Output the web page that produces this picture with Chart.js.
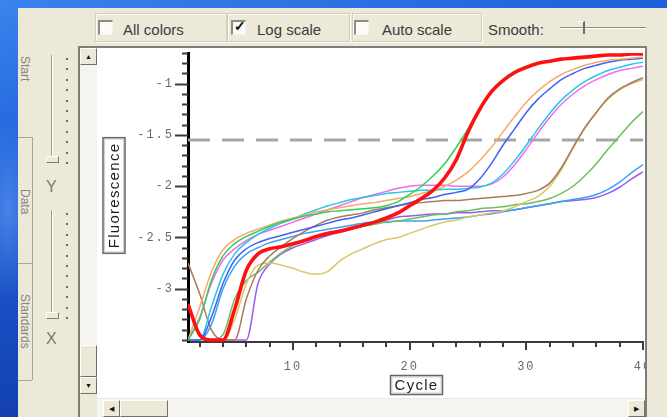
<!DOCTYPE html>
<html>
<head>
<meta charset="utf-8">
<title>Amplification plot</title>
<script src="https://cdn.jsdelivr.net/npm/chart.js@4.4.1/dist/chart.umd.min.js"></script>
<style>
  html, body { margin: 0; padding: 0; }
  body {
    width: 667px; height: 417px; overflow: hidden; position: relative;
    background:
      radial-gradient(ellipse 30px 90px at 8px 210px, rgba(120,180,255,0.45), rgba(120,180,255,0) 100%),
      linear-gradient(165deg, #3a84ee 0%, #1f60d8 30%, #1648bb 60%, #0b2f8e 100%);
    font-family: "Liberation Sans", Arial, sans-serif;
  }
  .abs { position: absolute; }
  #panel { left: 18px; top: 8px; width: 649px; height: 409px; background: #ece9d8; }

  /* option row */
  .group { top: 13px; height: 27px; border: 1px solid #d2cfc0; box-shadow: inset 1px 1px 0 #fbfaf5, 1px 1px 0 #fbfaf5; }
  .chk { top: 20px; width: 12px; height: 12px; background: #fbfbf8;
         border-top: 2px solid #8e8c84; border-left: 2px solid #8e8c84;
         border-bottom: 1px solid #f4f3ee; border-right: 1px solid #f4f3ee; }
  .chk span { position: absolute; left: 1px; top: -4px; font-size: 14px; font-weight: bold; color: #111; }
  .lbl { top: 21px; font-size: 15px; line-height: 17px; color: #3c3c3c; white-space: nowrap; }

  /* left tab strip */
  .tab { left: 19px; width: 13px; font-size: 12px; color: #86857f; writing-mode: vertical-rl; white-space: nowrap; }
  .hsep { left: 18px; width: 14px; height: 1px; background: #a9a79d; }

  /* trackbars */
  .vtrack { left: 51px; width: 1px; background: #9d9b92; border-right: 1px solid #fff; }
  .dot { left: 66px; width: 2px; height: 2px; background: #6a6a66; }
  .thumb { left: 46px; width: 11px; height: 5px; border-top: 1px solid #fff; border-left: 1px solid #fff;
           border-bottom: 1px solid #7d7b74; border-right: 1px solid #7d7b74; background: #ece9d8; }
  .axl { left: 46px; font-size: 16px; color: #7a7a76; }

  /* scrollbars */
  .btn { width: 15px; height: 15px; background: #ece9d8;
         border-top: 1px solid #fff; border-left: 1px solid #fff;
         border-bottom: 1px solid #71706a; border-right: 1px solid #71706a;
         font-size: 7px; line-height: 15px; text-align: center; color: #111; }
  .track { background: #f5f4ef; }

  #plotwrap { left: 97px; top: 48px; width: 548px; height: 350px; background: #fff; }
</style>
</head>
<body>
<div id="panel" class="abs"></div>

<!-- option row -->
<div class="abs group" style="left:95px;width:130px"></div>
<div class="abs group" style="left:227px;width:121px"></div>
<div class="abs group" style="left:352px;width:128px"></div>
<div class="abs chk" style="left:98px"></div>
<div class="abs chk" style="left:231px"><span>&#10003;</span></div>
<div class="abs chk" style="left:354px"></div>
<div class="abs lbl" style="left:123px">All colors</div>
<div class="abs lbl" style="left:257px">Log scale</div>
<div class="abs lbl" style="left:382px">Auto scale</div>
<div class="abs lbl" style="left:488px">Smooth:</div>
<div class="abs" style="left:560px;top:27px;width:86px;height:1px;background:#8d8b83;border-bottom:1px solid #fff"></div>
<div class="abs" style="left:578px;top:21px;width:5px;height:12px;border-right:2px solid #6e6c66;border-top:1px solid #fff"></div>

<!-- left tab strip -->
<div class="abs tab" style="top:56px">Start</div>
<div class="abs tab" style="top:189px">Data</div>
<div class="abs tab" style="top:294px">Standards</div>
<div class="abs hsep" style="top:137px"></div>
<div class="abs hsep" style="top:263px"></div>
<div class="abs hsep" style="top:380px"></div>
<div class="abs" style="left:32px;top:137px;width:1px;height:243px;background:#a9a79d"></div>

<!-- Y / X zoom trackbars -->
<div class="abs vtrack" style="top:55px;height:105px"></div>
<div class="abs thumb" style="top:156px"></div>
<div class="abs axl" style="top:178px">Y</div>
<div class="abs vtrack" style="top:210px;height:106px"></div>
<div class="abs thumb" style="top:312px"></div>
<div class="abs axl" style="top:330px">X</div>
<div id="dots"></div>

<!-- plot frame and scrollbars -->
<div class="abs" style="left:78px;top:46px;width:569px;height:2px;background:#7f7e78"></div>
<div class="abs" style="left:78px;top:46px;width:2px;height:371px;background:#7f7e78"></div>
<div class="abs" style="left:645px;top:46px;width:2px;height:371px;background:#7f7e78"></div>
<div class="abs track" style="left:80px;top:48px;width:17px;height:346px"></div>
<div class="abs btn" style="left:80px;top:48px">&#9650;</div>
<div class="abs btn" style="left:80px;top:345px;height:30px"></div>
<div class="abs btn" style="left:80px;top:377px">&#9660;</div>
<div class="abs track" style="left:97px;top:399px;width:548px;height:18px"></div>
<div class="abs btn" style="left:103px;top:400px">&#9664;</div>
<div class="abs btn" style="left:120px;top:400px;width:46px"></div>
<div class="abs btn" style="left:628px;top:400px">&#9654;</div>

<div id="plotwrap" class="abs"><canvas id="chart" width="548" height="350"></canvas></div>

<script>
// ---- data: log fluorescence per cycle for each well ----
const cycles = [1, 2, 3, 4, 5, 6, 7, 8, 9, 10, 11, 12, 13, 14, 15, 16, 17, 18, 19, 20,
  21, 22, 23, 24, 25, 26, 27, 28, 29, 30, 31, 32, 33, 34, 35, 36, 37, 38, 39, 40];

const wellRed = [-3.15, -3.45, -3.50, -3.50, -3.20, -2.82, -2.66, -2.61, -2.59, -2.56,
  -2.53, -2.49, -2.46, -2.44, -2.41, -2.38, -2.35, -2.31, -2.26, -2.19,
  -2.12, -2.04, -1.92, -1.74, -1.47, -1.25, -1.08, -0.97, -0.89, -0.84,
  -0.80, -0.78, -0.76, -0.75, -0.74, -0.73, -0.72, -0.72, -0.71, -0.71];
const wellGreen = [-3.50, -3.30, -2.92, -2.68, -2.56, -2.49, -2.44, -2.39, -2.35, -2.32,
  -2.29, -2.27, -2.25, -2.24, -2.23, -2.22, -2.21, -2.19, -2.15, -2.08,
  -2.00, -1.90, -1.78, -1.62, -1.44, -1.24, -1.07, -0.96, -0.88, -0.83,
  -0.80, -0.78, -0.76, -0.75, -0.74, -0.73, -0.72, -0.72, -0.71, -0.71];
const wellOrange = [-3.50, -3.18, -2.84, -2.62, -2.52, -2.46, -2.42, -2.38, -2.34, -2.31,
  -2.28, -2.25, -2.23, -2.21, -2.19, -2.17, -2.16, -2.14, -2.12, -2.10,
  -2.07, -2.04, -2.00, -1.94, -1.86, -1.75, -1.62, -1.47, -1.32, -1.18,
  -1.07, -0.98, -0.91, -0.86, -0.82, -0.79, -0.77, -0.76, -0.75, -0.74];
const wellBlue = [-3.50, -3.50, -3.28, -2.95, -2.72, -2.61, -2.55, -2.51, -2.48, -2.45,
  -2.42, -2.39, -2.36, -2.33, -2.31, -2.28, -2.25, -2.22, -2.19, -2.16,
  -2.13, -2.11, -2.08, -2.06, -2.03, -1.93, -1.78, -1.60, -1.44, -1.28,
  -1.15, -1.05, -0.96, -0.90, -0.85, -0.82, -0.79, -0.77, -0.76, -0.75];
const wellCyan = [-3.50, -3.50, -3.18, -2.86, -2.66, -2.55, -2.47, -2.41, -2.36, -2.32,
  -2.27, -2.23, -2.19, -2.16, -2.13, -2.11, -2.09, -2.07, -2.06, -2.05,
  -2.04, -2.04, -2.03, -2.03, -2.02, -2.01, -1.97, -1.88, -1.75, -1.60,
  -1.44, -1.29, -1.16, -1.06, -0.98, -0.92, -0.87, -0.84, -0.81, -0.79];
const wellPink = [-3.50, -3.28, -2.95, -2.72, -2.61, -2.53, -2.47, -2.43, -2.39, -2.35,
  -2.31, -2.27, -2.23, -2.19, -2.15, -2.11, -2.08, -2.05, -2.02, -2.00,
  -1.99, -1.99, -1.99, -2.00, -2.00, -2.00, -1.98, -1.91, -1.79, -1.64,
  -1.48, -1.33, -1.20, -1.10, -1.02, -0.96, -0.91, -0.87, -0.85, -0.83];
const wellBrown = [-2.75, -3.05, -3.40, -3.50, -3.50, -3.10, -2.82, -2.68, -2.59, -2.51,
  -2.44, -2.38, -2.33, -2.30, -2.28, -2.26, -2.23, -2.21, -2.19, -2.17,
  -2.16, -2.15, -2.14, -2.14, -2.13, -2.12, -2.11, -2.10, -2.09, -2.07,
  -2.04, -1.97, -1.82, -1.62, -1.43, -1.28, -1.14, -1.05, -0.99, -0.94];
const wellKhaki = [-3.50, -3.50, -3.50, -3.50, -3.30, -2.95, -2.77, -2.75, -2.77, -2.80,
  -2.84, -2.86, -2.83, -2.73, -2.66, -2.61, -2.56, -2.52, -2.50, -2.46,
  -2.42, -2.38, -2.35, -2.33, -2.30, -2.28, -2.26, -2.24, -2.20, -2.15,
  -2.10, -2.00, -1.84, -1.63, -1.44, -1.28, -1.15, -1.06, -1.00, -0.96];
const wellLime = [-3.50, -3.50, -3.50, -3.45, -3.10, -2.92, -2.84, -2.74, -2.65, -2.58,
  -2.53, -2.49, -2.46, -2.43, -2.41, -2.39, -2.37, -2.35, -2.34, -2.32,
  -2.30, -2.28, -2.27, -2.25, -2.24, -2.22, -2.21, -2.20, -2.18, -2.17,
  -2.15, -2.12, -2.07, -2.00, -1.90, -1.78, -1.64, -1.51, -1.38, -1.27];
const wellSky = [-3.50, -3.50, -3.35, -3.00, -2.78, -2.66, -2.60, -2.55, -2.52, -2.49,
  -2.46, -2.44, -2.42, -2.40, -2.38, -2.36, -2.35, -2.35, -2.34, -2.34,
  -2.34, -2.33, -2.32, -2.31, -2.30, -2.28, -2.27, -2.25, -2.23, -2.21,
  -2.19, -2.17, -2.15, -2.13, -2.11, -2.08, -2.03, -1.96, -1.87, -1.79];
const wellViolet = [-3.50, -3.50, -3.50, -3.50, -3.50, -3.50, -2.95, -2.76, -2.66, -2.60,
  -2.56, -2.52, -2.48, -2.45, -2.42, -2.39, -2.36, -2.33, -2.30, -2.29,
  -2.28, -2.27, -2.27, -2.26, -2.26, -2.25, -2.24, -2.24, -2.23, -2.21,
  -2.19, -2.17, -2.15, -2.14, -2.13, -2.11, -2.07, -2.01, -1.93, -1.86];

const threshold = -1.55;

// axis ticks and labels
const cycleTicks = [2, 4, 6, 8, 10, 12, 14, 16, 18, 20, 22, 24, 26, 28, 30, 32, 34, 36, 38, 40];
const cycleLabels = [10, 20, 30, 40];
const fluorTicks = [-3.5, -3.4, -3.3, -3.2, -3.1, -3.0, -2.9, -2.8, -2.7, -2.6, -2.5, -2.4, -2.3, -2.2,
  -2.1, -2.0, -1.9, -1.8, -1.7, -1.6, -1.5, -1.4, -1.3, -1.2, -1.1, -1.0, -0.9, -0.8, -0.7];
const fluorLabels = [-1, -1.5, -2, -2.5, -3];

// ---- series list (first entry is painted on top) ----
const wells = [
  { name: 'A1', values: wellRed, color: '#ff1010', width: 3.6 },
  { name: 'A2', values: wellGreen, color: '#2fcf5a', width: 1.5 },
  { name: 'A3', values: wellOrange, color: '#f4aa68', width: 1.5 },
  { name: 'A4', values: wellBlue, color: '#3f62f2', width: 1.5 },
  { name: 'A5', values: wellCyan, color: '#2cc6e2', width: 1.5 },
  { name: 'A6', values: wellPink, color: '#ef6cf0', width: 1.5 },
  { name: 'A7', values: wellBrown, color: '#a9795f', width: 1.5 },
  { name: 'A8', values: wellKhaki, color: '#d9c76a', width: 1.5 },
  { name: 'A9', values: wellLime, color: '#6cc05c', width: 1.5 },
  { name: 'A10', values: wellSky, color: '#38a2f2', width: 1.5 },
  { name: 'A11', values: wellViolet, color: '#9b5cf0', width: 1.5 },
];

// dotted scale marks beside the two trackbars
const dotBox = document.getElementById('dots');
[58, 213].forEach(top => {
  for (let i = 0; i < 11; i++) {
    const d = document.createElement('div');
    d.className = 'abs dot';
    d.style.top = (top + i * 10.4) + 'px';
    dotBox.appendChild(d);
  }
});

const isNear = (list, v) => list.some(l => Math.abs(l - v) < 1e-6);

// tick marks, spaced labels and the boxed axis titles
const axisDecor = {
  id: 'axisDecor',
  beforeDraw(chart) { chart.ctx.letterSpacing = '2px'; },
  beforeDatasetsDraw(chart) { chart.ctx.letterSpacing = '0px'; },
  afterDraw(chart) {
    const { ctx, scales: { x, y } } = chart;
    ctx.save();
    ctx.strokeStyle = '#3b3b3b';
    ctx.lineWidth = 2;
    y.ticks.forEach(t => {
      const py = Math.round(y.getPixelForValue(t.value)) + 0.5;
      const len = isNear(fluorLabels, t.value) ? 13 : 6;
      ctx.beginPath(); ctx.moveTo(y.right - len, py); ctx.lineTo(y.right, py); ctx.stroke();
    });
    x.ticks.forEach(t => {
      const px = Math.round(x.getPixelForValue(t.value));
      const len = cycleLabels.includes(t.value) ? 8 : 5;
      ctx.beginPath(); ctx.moveTo(px, x.top); ctx.lineTo(px, x.top + len); ctx.stroke();
    });

    ctx.font = '15px "Liberation Sans", Arial, sans-serif';
    ctx.letterSpacing = '1.3px';
    ctx.textAlign = 'center';
    ctx.textBaseline = 'middle';
    const box = (cx, cy, w, h) => {
      ctx.lineWidth = 1;
      ctx.strokeStyle = '#d0d0d0';
      ctx.strokeRect(cx - w / 2 + 1.5, cy - h / 2 + 1.5, w - 3, h - 3);
      ctx.strokeStyle = '#666';
      ctx.lineWidth = 1.5;
      ctx.strokeRect(cx - w / 2, cy - h / 2, w, h);
    };

    // vertical title
    const fw = ctx.measureText('Fluorescence').width;
    const fx = y.left + 17, fy = (y.top + y.bottom) / 2 - 2;
    box(fx, fy, 22, fw + 10);
    ctx.save();
    ctx.translate(fx, fy);
    ctx.rotate(-Math.PI / 2);
    ctx.fillStyle = '#1d1d1d';
    ctx.fillText('Fluorescence', 0, 1);
    ctx.restore();

    // horizontal title
    const cw = ctx.measureText('Cycle').width;
    const cx = (x.left + x.right) / 2 + 1, cy = x.bottom - 13;
    box(cx, cy, cw + 8, 19);
    ctx.fillStyle = '#1d1d1d';
    ctx.fillText('Cycle', cx, cy + 1);
    ctx.restore();
  }
};

const datasets = wells.map(w => ({
  label: w.name,
  data: cycles.map((c, i) => ({ x: c, y: w.values[i] })),
  borderColor: w.color,
  borderWidth: w.width,
  pointRadius: 0,
  cubicInterpolationMode: 'monotone',
  fill: false,
}));
datasets.push({
  label: 'Threshold',
  data: [{ x: cycles[0], y: threshold }, { x: cycles[cycles.length - 1], y: threshold }],
  borderColor: '#a6a6a6',
  borderWidth: 3,
  borderDash: [22, 12],
  pointRadius: 0,
});

const monoTicks = { family: '"Liberation Mono", "DejaVu Sans Mono", monospace', size: 12 };

new Chart(document.getElementById('chart'), {
  type: 'line',
  data: { datasets },
  plugins: [axisDecor],
  options: {
    responsive: false,
    animation: false,
    devicePixelRatio: 1,
    layout: { padding: { top: 5, right: 2, left: 0, bottom: 0 } },
    plugins: { legend: { display: false }, tooltip: { enabled: false } },
    scales: {
      x: {
        type: 'linear',
        min: 1,
        max: 40,
        afterBuildTicks: s => { s.ticks = cycleTicks.map(v => ({ value: v })); },
        afterFit: s => { s.height = 56; s.paddingLeft = 0; s.paddingRight = 0; },
        ticks: {
          autoSkip: false,
          maxRotation: 0,
          padding: 10,
          color: '#646a73',
          font: monoTicks,
          callback: v => (cycleLabels.includes(v) ? String(v) : ''),
        },
        grid: { drawOnChartArea: false, drawTicks: true, tickLength: 8, tickColor: 'rgba(0,0,0,0)' },
        border: { display: true, color: '#3a3a3a', width: 2 },
      },
      y: {
        min: -3.52,
        max: -0.70,
        afterBuildTicks: s => { s.ticks = fluorTicks.map(v => ({ value: v })); },
        afterFit: s => { s.width = 91; s.paddingTop = 0; s.paddingBottom = 0; },
        ticks: {
          autoSkip: false,
          padding: 1,
          color: '#646a73',
          font: monoTicks,
          callback: v => (isNear(fluorLabels, v) ? String(v) : ''),
        },
        grid: { drawOnChartArea: false, drawTicks: true, tickLength: 13, tickColor: 'rgba(0,0,0,0)' },
        border: { display: true, color: '#000', width: 3 },
      },
    },
  },
});
</script>
</body>
</html>
